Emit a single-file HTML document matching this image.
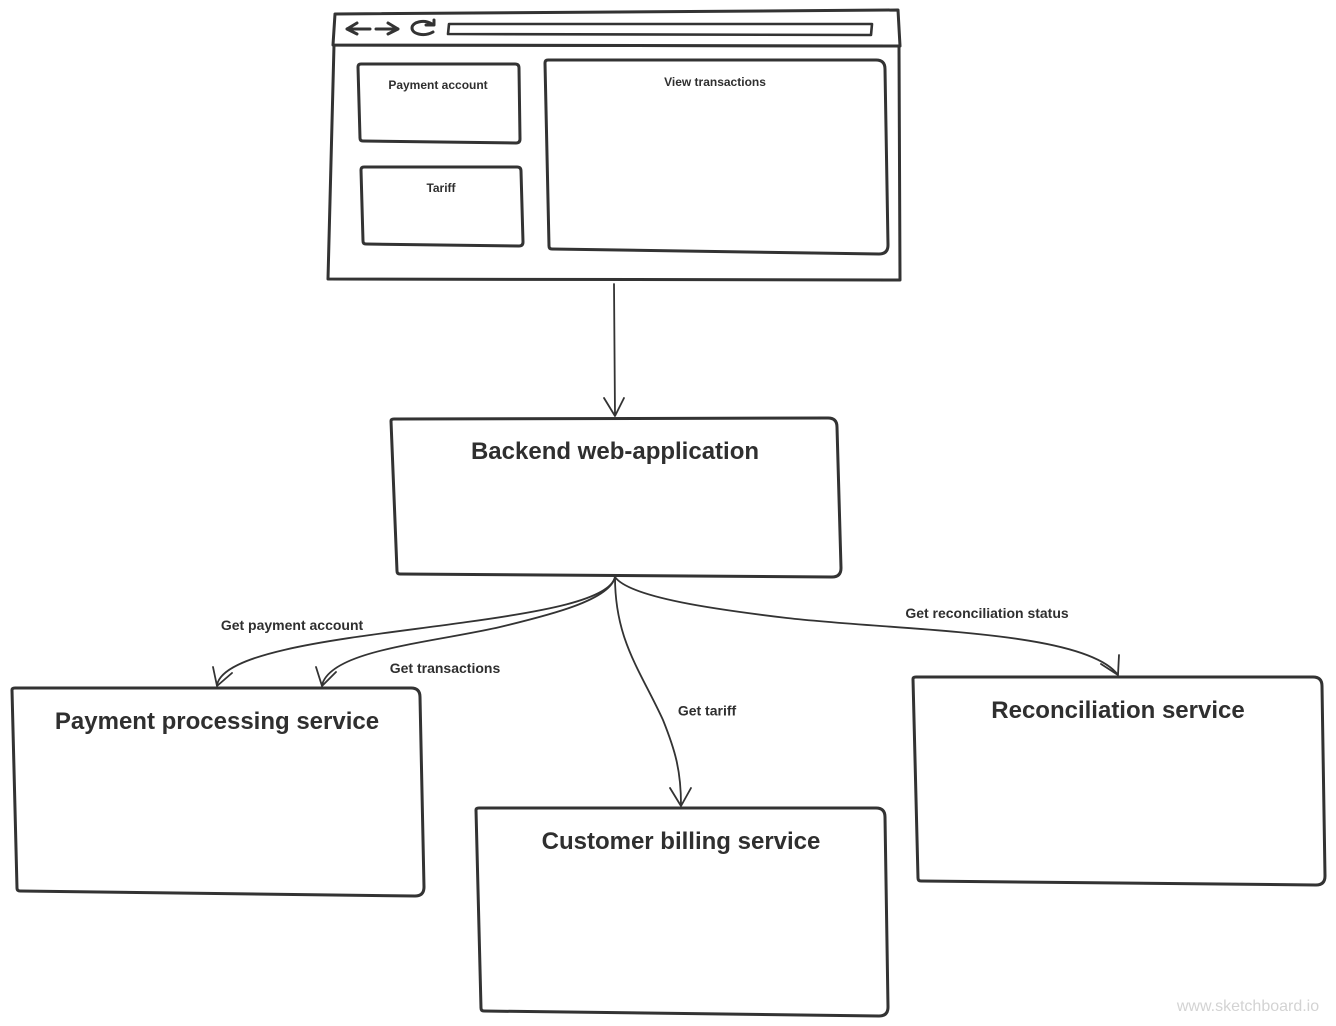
<!DOCTYPE html>
<html><head><meta charset="utf-8"><style>
html,body{margin:0;padding:0;background:#fff;width:1336px;height:1026px;overflow:hidden}
svg{display:block}
text{font-family:"Liberation Sans",Arial,sans-serif;font-weight:bold;fill:#2f2f2f;text-anchor:middle}
.b{fill:#fff;stroke:#333;stroke-width:3;stroke-linejoin:round;stroke-linecap:round}
.c{fill:none;stroke:#333;stroke-width:1.8;stroke-linecap:round;stroke-linejoin:round}
.t{font-size:24px}.s{font-size:12px}.m{font-size:14px}
</style></head><body>
<svg width="1336" height="1026" viewBox="0 0 1336 1026">
<path class="b" d="M334 45 L328 279 L900 280 L899 46 Z"/>
<path class="b" d="M335 14 L898 10 L900 46 L333 45 Z"/>
<path class="b" d="M449 24 L872 24 L871 35 L448 34 Z" style="stroke-width:2.6"/>
<path class="c" style="stroke-width:3" d="M347 29 H370 M347 29 L357 23 M347 29 L357 34 M376 29 H398 M398 29 L388 23 M398 29 L388 34"/>
<path class="c" style="stroke-width:3" d="M432 24 C424 19 412 22 412 28 C412 34 424 37 433 32 M426 25 L434 25 L434 20"/>
<path class="b" d="M358 67 Q358 64 361 64 L515 64 Q519 64 519 68 L520 139 Q520 143 516 143 L363 141 Q360 141 360 138 Z"/>
<path class="b" d="M361 170 Q361 167 364 167 L517 167 Q521 167 521 171 L523 242 Q523 246 519 246 L366 244 Q363 244 363 241 Z"/>
<path class="b" d="M545 63 Q545 60 548 60 L876 60 Q885 60 885 69 L888 245 Q888 254 879 254 L552 249 Q549 249 549 246 Z"/>
<text class="s" x="438" y="89">Payment account</text>
<text class="s" x="441" y="192">Tariff</text>
<text class="s" x="715" y="86">View transactions</text>
<path class="c" d="M614 284 L615 416 M604 398 L615 416 L624 398"/>
<path class="b" d="M391 421 Q391 419 394 419 L828 418 Q837 418 837 427 L841 568 Q841 577 832 577 L400 574 Q397 574 397 571 Z"/>
<text class="t" x="615" y="459">Backend web-application</text>
<path class="c" d="M615 577 C610 600 540 612 467 622 C370 636 224 648 217 685 M213 667 L217 686 L232 673"/>
<path class="c" d="M615 577 C610 600 550 615 500 627 C430 643 331 650 322 685 M316 667 L322 686 L336 672"/>
<path class="c" d="M615 577 C615 640 640 670 663 720 C675 750 681 770 681 805 M670 788 L681 806 L691 788"/>
<path class="c" d="M615 577 C630 598 720 610 787 618 C900 631 1085 630 1118 675 M1119 655 L1118 675 L1101 664"/>
<text class="m" x="292" y="630">Get payment account</text>
<text class="m" x="445" y="673">Get transactions</text>
<text class="m" x="707" y="715.500">Get tariff</text>
<text class="m" x="987" y="618">Get reconciliation status</text>
<path class="b" d="M12 690 Q12 688 15 688 L411 688 Q420 688 420 697 L424 887 Q424 896 415 896 L20 891 Q17 891 17 888 Z"/>
<text class="t" x="217" y="729">Payment processing service</text>
<path class="b" d="M476 810 Q476 808 479 808 L876 808 Q885 808 885 817 L888 1007 Q888 1016 879 1016 L484 1011 Q481 1011 481 1008 Z"/>
<text class="t" x="681" y="849">Customer billing service</text>
<path class="b" d="M913 679 Q913 677 916 677 L1313 677 Q1322 677 1322 686 L1325 876 Q1325 885 1316 885 L921 881 Q918 881 918 878 Z"/>
<text class="t" x="1118" y="718">Reconciliation service</text>
<text x="1248" y="1011" style="font-size:16px;font-weight:normal;fill:#d3d3d3">www.sketchboard.io</text>
</svg>
</body></html>
